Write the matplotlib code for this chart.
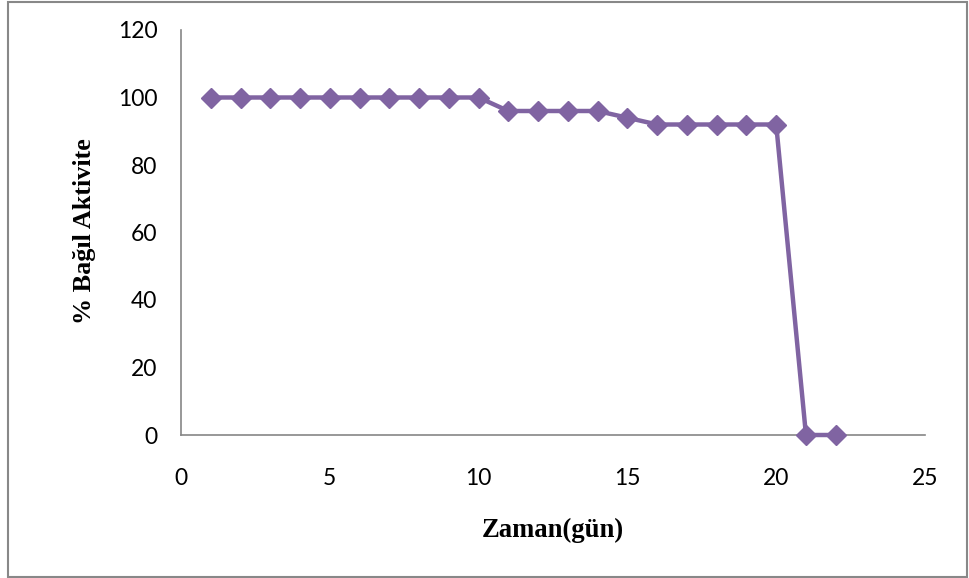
import matplotlib
matplotlib.use("Agg")
import matplotlib.pyplot as plt
from matplotlib.patches import Rectangle

days = [1, 2, 3, 4, 5, 6, 7, 8, 9, 10, 11, 12, 13, 14, 15, 16, 17, 18, 19, 20, 21, 22]
activity = [100, 100, 100, 100, 100, 100, 100, 100, 100, 100,
            96, 96, 96, 96, 94, 92, 92, 92, 92, 92, 0, 0]
xticks = [0, 5, 10, 15, 20, 25]
yticks = [0, 20, 40, 60, 80, 100, 120]

W, H = 969, 578
fig = plt.figure(figsize=(W / 100, H / 100), dpi=100)
ax = fig.add_axes([181 / W, 1 - 435 / H, (925 - 181) / W, (435 - 30) / H])

color = "#8064A2"
ax.plot(days, activity, color=color, linewidth=3.2, marker="D", markersize=10,
        markerfacecolor=color, markeredgecolor=color, clip_on=False, zorder=3)

ax.set_xlim(0, 25)
ax.set_ylim(0, 120)
ax.set_xticks(xticks)
ax.set_yticks(yticks)
for s in ["top", "right"]:
    ax.spines[s].set_visible(False)
for s in ["left", "bottom"]:
    ax.spines[s].set_color("#868686")
    ax.spines[s].set_linewidth(1.2)

ax.tick_params(axis="x", length=0, pad=24)
ax.tick_params(axis="y", length=0, pad=17)
for lab in ax.get_xticklabels() + ax.get_yticklabels():
    lab.set_fontfamily(["Lato", "DejaVu Sans"])
    lab.set_fontsize(16.5)

fig.text(553 / W, 1 - 530 / H, "Zaman(gün)", ha="center", va="center",
         family=["Liberation Serif", "DejaVu Serif"], weight="bold", fontsize=19.2)
fig.text(84 / W, 1 - 231 / H, "% Bağıl Aktivite", ha="center", va="center",
         rotation=90, family=["Liberation Serif", "DejaVu Serif"], weight="bold",
         fontsize=18.8)

border = Rectangle((8 / W, 1 / H), (967 - 8) / W, (576 - 1) / H,
                   transform=fig.transFigure, fill=False, edgecolor="#888888",
                   linewidth=1.5)
fig.patches.append(border)

fig.savefig("out.png", dpi=100)
